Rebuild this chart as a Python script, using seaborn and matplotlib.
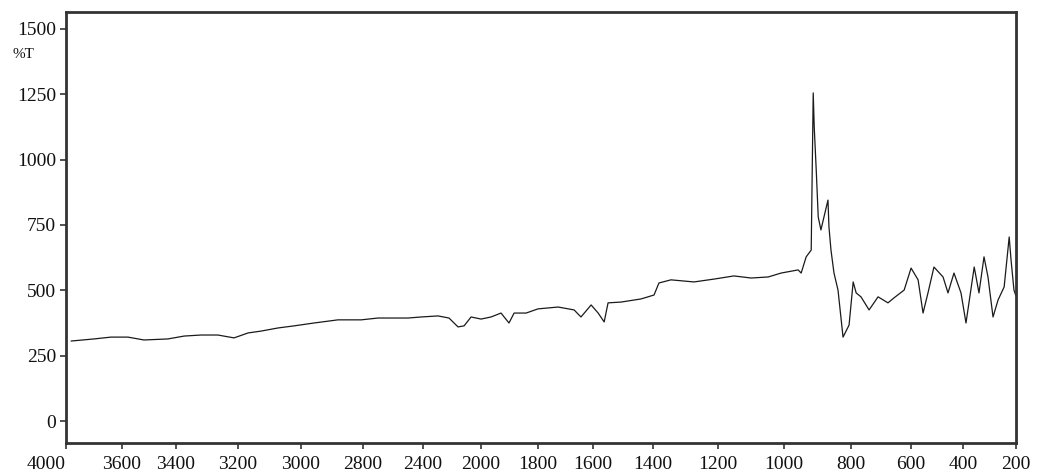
import numpy as np
import pandas as pd
import matplotlib
matplotlib.use("Agg")
import matplotlib.pyplot as plt
from matplotlib.ticker import NullLocator
import seaborn as sns

# IR-type spectrum (wavenumber in cm-1, %T)
WAVENUMBER = [3964, 3800, 3679, 3578, 3519, 3430, 3374, 3319, 3265, 3213,
              3168, 3127, 3073, 3022, 2958, 2881, 2806, 2700, 2547, 2500,
              2413, 2297, 2221, 2159, 2117, 2069, 2000, 1965, 1930, 1902,
              1884, 1842, 1800, 1727, 1669, 1644, 1607, 1583, 1563, 1550,
              1507, 1440, 1397, 1382, 1345, 1274, 1212, 1152, 1100, 1048,
              1009, 958, 949, 934, 919, 913, 910, 904, 898, 890,
              869, 866, 860, 851, 839, 824, 806, 793, 783, 767,
              740, 710, 677, 657, 623, 600, 573, 554, 535, 512,
              477, 458, 435, 408, 389, 358, 340, 321, 306, 287,
              268, 245, 226, 219, 208, 201]
TRANSMITTANCE = [306, 314, 321, 321, 310, 314, 325, 329, 329, 318,
                 337, 344, 356, 364, 375, 387, 387, 394, 394, 394,
                 398, 402, 394, 360, 364, 398, 390, 398, 413, 375,
                 413, 413, 429, 436, 425, 398, 444, 413, 379, 452,
                 455, 467, 482, 528, 540, 532, 543, 555, 547, 551,
                 566, 578, 566, 628, 654, 1255, 1125, 960, 780, 731,
                 845, 742, 654, 566, 501, 321, 367, 532, 490, 475,
                 425, 475, 452, 471, 501, 585, 540, 413, 490, 589,
                 551, 490, 566, 490, 375, 589, 490, 628, 551, 398,
                 463, 513, 704, 616, 501, 480]

TICK_VALUES = [4000, 3600, 3400, 3200, 3000, 2800, 2400, 2000, 1800,
               1600, 1400, 1200, 1000, 800, 600, 400, 200]
Y_TICKS = [0, 250, 500, 750, 1000, 1250, 1500]

# the printed axis is not linear: offset of every labelled tick from the 200 end
_vals = np.array([200, 400, 600, 800, 1000, 1200, 1400, 1600, 1800,
                  2000, 2400, 2800, 3000, 3200, 3400, 3600, 4000], float)
_pos = np.array([0, 53, 105, 165, 232, 298, 363, 423, 478,
                 535, 593, 653, 715, 778, 840, 894, 950], float)


def _pw(x, xp, fp):
    # piecewise linear, extrapolated linearly past both ends
    x = np.asarray(x, float)
    y = np.interp(x, xp, fp)
    lo = (fp[1] - fp[0]) / (xp[1] - xp[0])
    hi = (fp[-1] - fp[-2]) / (xp[-1] - xp[-2])
    y = np.where(x < xp[0], fp[0] + (x - xp[0]) * lo, y)
    y = np.where(x > xp[-1], fp[-1] + (x - xp[-1]) * hi, y)
    return y


def fwd(x):
    return _pw(x, _vals, _pos)


def inv(u):
    return _pw(u, _pos, _vals)


df = pd.DataFrame({"wn": WAVENUMBER, "t": TRANSMITTANCE})

sns.set_theme(style="white")
plt.rcParams["font.family"] = ["Liberation Serif", "DejaVu Serif"]

fig = plt.figure(figsize=(10.4, 4.74), dpi=100)
ax = fig.add_axes([0.0635, 0.0654, 0.9135, 0.9096])

sns.lineplot(data=df, x="wn", y="t", ax=ax, sort=False, estimator=None,
             color="#1a1a1a", lw=0.9)

ax.set_xscale("function", functions=(fwd, inv))
ax.xaxis.set_minor_locator(NullLocator())
ax.set_xlim(4000, 200)
ax.set_ylim(-84, 1565)
ax.set_xticks(TICK_VALUES)
ax.set_xticklabels([str(v) for v in TICK_VALUES], fontsize=14)
ax.set_yticks(Y_TICKS)
ax.set_yticklabels([str(v) for v in Y_TICKS], fontsize=14)
ax.xaxis.get_majorticklabels()[0].set_horizontalalignment("right")
ax.set_xlabel("")
ax.set_ylabel("")
ax.tick_params(axis="both", direction="out", length=4, width=1.2,
               color="#333333", labelcolor="#111111", bottom=True, left=True)
ax.tick_params(axis="x", pad=5)
ax.tick_params(axis="y", pad=3)
for sp in ax.spines.values():
    sp.set_color("#333333")
    sp.set_linewidth(2.0)
ax.grid(False)

fig.text(0.012, 0.885, "%T", fontsize=11, color="#111111",
         ha="left", va="center")

fig.savefig("out.png", dpi=100)
